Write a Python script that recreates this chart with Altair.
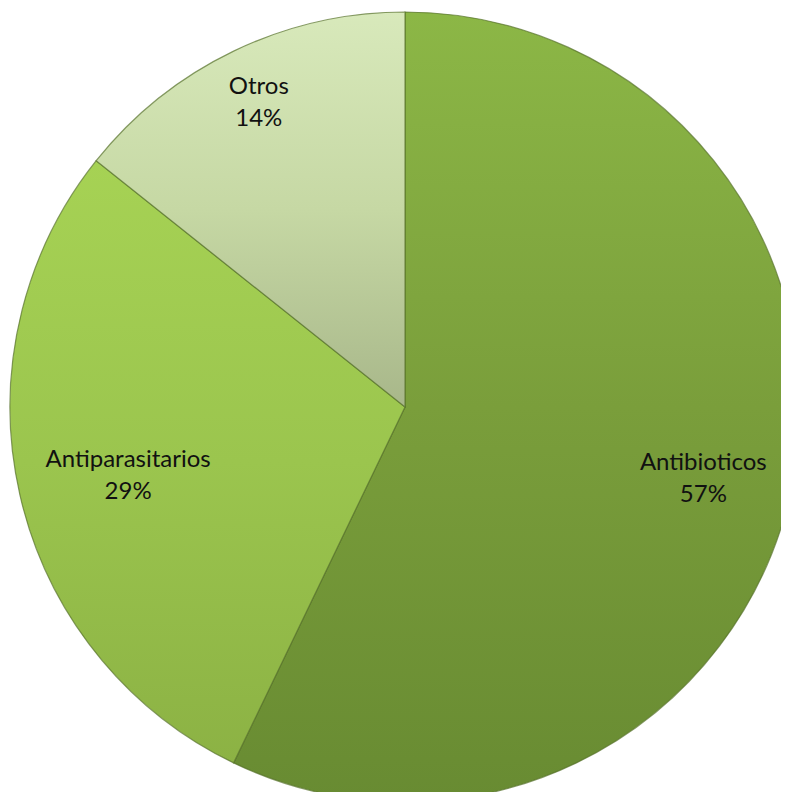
import math
import altair as alt
import pandas as pd

# Data
categories = ["Antibioticos", "Antiparasitarios", "Otros"]
counts = [4, 2, 1]          # 57%, 29%, 14%
order = [0, 1, 2]

df = pd.DataFrame({"categoria": categories, "n": counts, "orden": order})

CX, CY, R = 397, 399, 395

grad_stops = {
    "Antibioticos": ("#8cb746", "#7a9e3b", "#688b32"),
    "Antiparasitarios": ("#a6d254", "#9bc54e", "#8cb244"),
    "Otros": ("#d8e9bb", "#c6d8a4", "#a8b78a"),
}
label_radius = {"Antibioticos": 306, "Antiparasitarios": 284, "Otros": 337}
label_dy = {"Antibioticos": -12, "Antiparasitarios": -10, "Otros": -16}

base = (
    alt.Chart(df)
    .transform_window(cum="sum(n)", sort=[alt.SortField("orden")], frame=[None, 0])
    .transform_joinaggregate(total="sum(n)")
    .transform_calculate(
        f0="(datum.cum - datum.n) / datum.total",
        f1="datum.cum / datum.total",
        fm="(datum.cum - datum.n / 2) / datum.total",
        label="datum.categoria + '\\n' + format(datum.n / datum.total, '.0%')",
    )
)

theta_scale = alt.Scale(domain=[0, 1], range=[0, 2 * math.pi])

layers = []
for cat in categories:
    c0, c1, c2 = grad_stops[cat]
    fill = alt.Gradient(
        gradient="linear",
        stops=[
            alt.GradientStop(color=c0, offset=0),
            alt.GradientStop(color=c1, offset=0.5),
            alt.GradientStop(color=c2, offset=1),
        ],
        x1=0, x2=0, y1=0, y2=1,
    )
    arc = (
        base.transform_filter(alt.datum.categoria == cat)
        .mark_arc(fill=fill, stroke="#55712a", strokeOpacity=0.7, strokeWidth=1.2, clip=True)
        .encode(
            theta=alt.Theta("f0:Q", scale=theta_scale),
            theta2="f1:Q",
            radius=alt.value(R),
            x=alt.value(CX),
            y=alt.value(CY),
        )
    )
    layers.append(arc)

for cat in categories:
    txt = (
        base.transform_filter(alt.datum.categoria == cat)
        .mark_text(
            font="Lato", fontSize=24, color="#111111", lineBreak="\n",
            lineHeight=32, align="center", baseline="middle", dy=label_dy[cat],
        )
        .encode(
            theta=alt.Theta("fm:Q", scale=theta_scale),
            radius=alt.value(label_radius[cat]),
            x=alt.value(CX),
            y=alt.value(CY),
            text="label:N",
        )
    )
    layers.append(txt)

chart = (
    alt.layer(*layers)
    .properties(
        width=773,
        height=784,
        autosize=alt.AutoSizeParams(type="none"),
        padding=0,
        background="white",
    )
    .configure_view(stroke=None)
)

chart.save("out.html", embed_options={"renderer": "svg", "actions": False})
